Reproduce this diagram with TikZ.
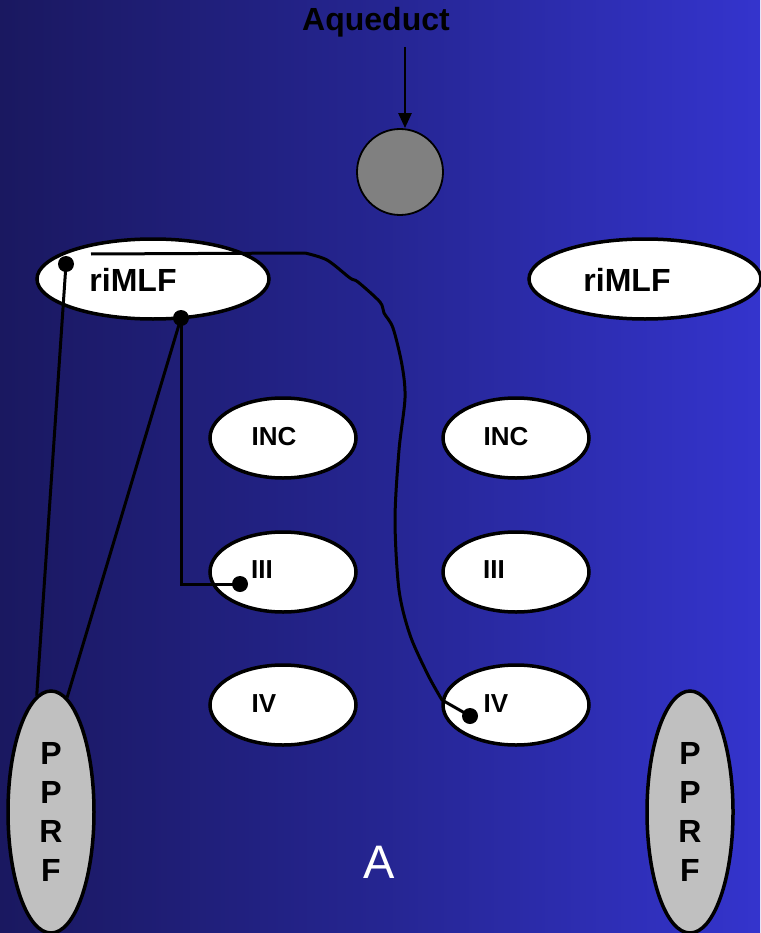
\documentclass[tikz,border=0pt]{standalone}
\usepackage{fontspec}
\setmainfont{Liberation Sans}
\usetikzlibrary{shapes.geometric, arrows.meta}

\definecolor{bgleft}{RGB}{26,24,96}
\definecolor{bgmid}{RGB}{37,37,145}
\definecolor{bgright}{RGB}{52,52,205}
\definecolor{pprfgray}{RGB}{192,192,192}
\definecolor{aqgray}{RGB}{128,128,128}

\tikzstyle{nucleus} = [ellipse, draw=black, line width=3.5pt, fill=white, inner sep=0pt, minimum width=146pt, minimum height=80pt]
\tikzstyle{rimlf_node} = [nucleus, minimum width=232pt]
\tikzstyle{pprf_node} = [ellipse, draw=black, line width=3.5pt, fill=pprfgray, inner sep=0pt, minimum width=86pt, minimum height=242pt, align=center, font=\bfseries\fontsize{32}{39}\selectfont]
\tikzstyle{nuc_label} = [font=\bfseries\fontsize{26}{30}\selectfont]
\tikzstyle{big_label} = [font=\bfseries\fontsize{32}{36}\selectfont]
\tikzstyle{dot} = [circle, fill=black, inner sep=0pt, minimum size=16pt]
\tikzstyle{fiber} = [line width=3pt, black]

\begin{document}
\begin{tikzpicture}[x=1pt, y=-1pt]
\shade[left color=bgleft, right color=bgright, middle color=bgmid] (0,0) rectangle (760,933);
\useasboundingbox (0,0) rectangle (760,933);

% Aquaedukt oben
\node (aqtext) [big_label] at (376,22) {Aqueduct};
\node (aqueduct) [circle, draw=black, line width=1.8pt, fill=aqgray, minimum width=86pt, minimum height=80pt, inner sep=0pt] at (400,172) {};
\draw [line width=2.6pt, -{Triangle[length=15pt, width=13pt]}] (405,47) -- (aqueduct.north -| 405,0);

% Kerne links und rechts
\node (rimlfL) [rimlf_node] at (153,279) {};
\node (rimlfR) [rimlf_node] at (645,279) {};
\node (incL) [nucleus] at (283,438) {};
\node (incR) [nucleus] at (516,438) {};
\node (threeL) [nucleus] at (283,572) {};
\node (threeR) [nucleus] at (516,572) {};
\node (fourL) [nucleus] at (283,705) {};
\node (fourR) [nucleus] at (516,705) {};
\node (pprfL) [pprf_node] at (51,812) {P\\P\\R\\F};
\node (pprfR) [pprf_node] at (690,812) {P\\P\\R\\F};

\node [big_label] at (133,280) {riMLF};
\node [big_label] at (627,280) {riMLF};
\node [nuc_label] at (274,437) {INC};
\node [nuc_label] at (506,437) {INC};
\node [nuc_label] at (262,570) {III};
\node [nuc_label] at (494,570) {III};
\node [nuc_label] at (264,704) {IV};
\node [nuc_label] at (496,704) {IV};

% Verbindungen von riMLF
\node (dotA) [dot] at (66,264) {};
\node (dotB) [dot] at (181,318) {};
\node (dotIII) [dot] at (240,584) {};
\node (dotIV) [dot] at (470,716) {};
\coordinate (fiberstart) at (91,254);

\draw [fiber] (dotA.center) -- (pprfL.97);
\draw [fiber] (dotB.center) -- (pprfL.82);
\draw [fiber] (dotB.center) -- (181,584) -- (dotIII.center);
\draw [fiber] (fiberstart) -- (305,253)
  plot [smooth, tension=0.5] coordinates {(305,253) (327,260) (350,278) (358,282) (380,302) (384,313) (393,328) (402,365) (405,398) (399,450) (395,520) (399,590) (410,635) (428,675) (442,700)}
  -- (dotIV.center);

\node (panel) [text=white, font=\fontsize{47}{50}\selectfont] at (379,862) {A};
\end{tikzpicture}
\end{document}
